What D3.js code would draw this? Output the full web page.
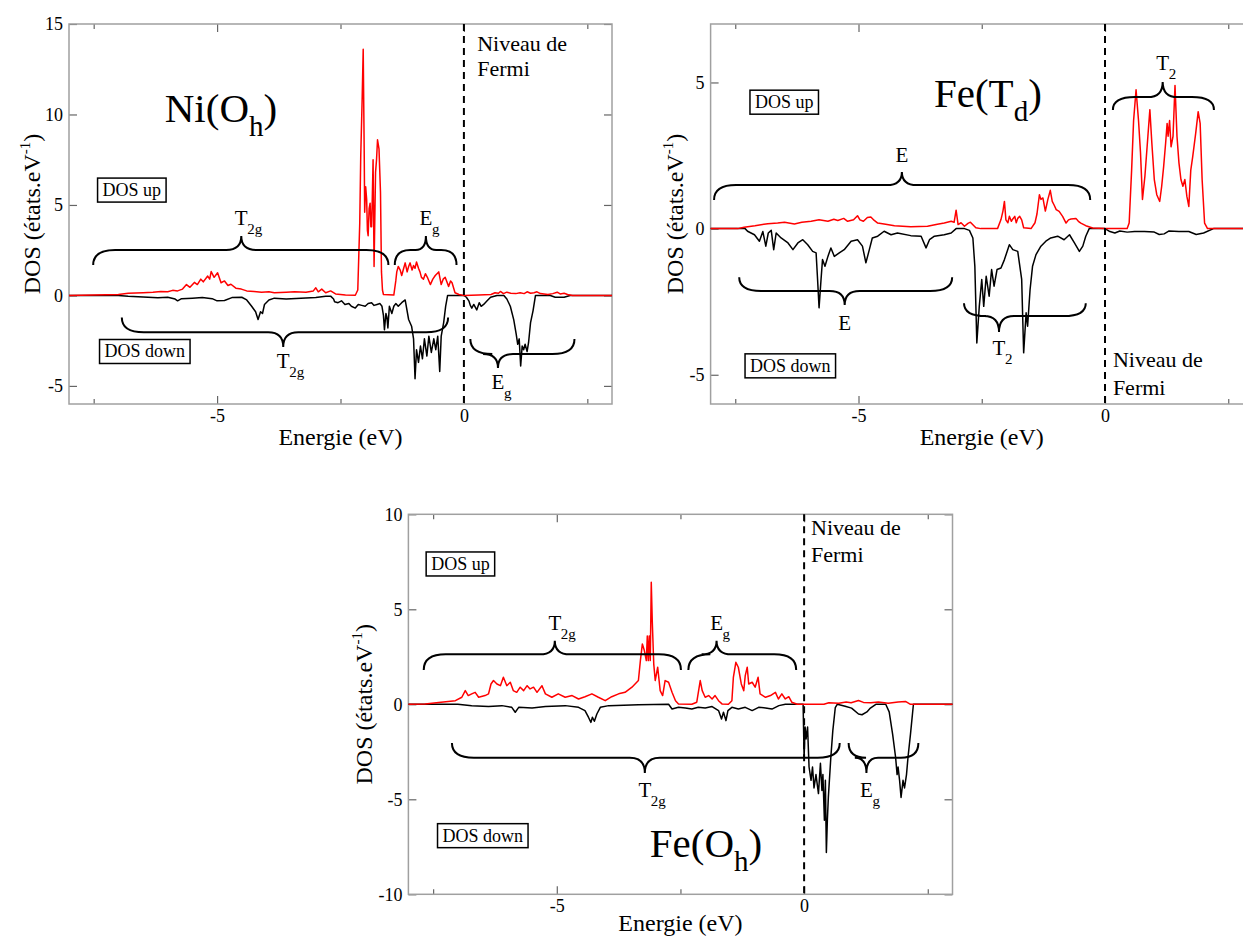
<!DOCTYPE html>
<html><head><meta charset="utf-8">
<script src="https://cdn.jsdelivr.net/npm/d3@7"></script>
<style>
body{margin:0;background:#fff}
svg{display:block}
svg text{font-family:"Liberation Serif","Tinos","DejaVu Serif","Noto Serif",serif !important;fill:#000}
</style>
</head><body>
<svg id="c" width="1243" height="938"></svg>
<script>
// ---------- DATA ----------
const xMajorTicks = [-5, 0];
const xMinorTicks = [-7.5, -2.5, 2.5];
const niYTicks = [-5, 0, 5, 10, 15];
const tdYTicks = [-5, 0, 5];
const ohYTicks = [-10, -5, 0, 5, 10];

// Ni(Oh) DOS up (red) [energy eV, DOS]
const niUp = [[-8,0],[-7.5,0.02],[-7,0.05],[-6.8,0.12],[-6.5,0.15],[-6.3,0.18],[-6.14,0.22],[-6.0,0.2],[-5.9,0.28],[-5.8,0.25],[-5.7,0.35],[-5.62,0.6],[-5.55,0.45],[-5.46,0.72],[-5.4,0.6],[-5.33,0.9],[-5.28,0.75],[-5.19,1.07],[-5.15,0.9],[-5.12,1.32],[-5.06,1.0],[-4.99,1.25],[-4.92,0.7],[-4.85,0.8],[-4.78,0.55],[-4.72,0.62],[-4.62,0.4],[-4.51,0.35],[-4.4,0.25],[-4.25,0.22],[-4.1,0.18],[-3.95,0.2],[-3.84,0.15],[-3.6,0.18],[-3.43,0.2],[-3.2,0.18],[-3.05,0.25],[-3.0,0.42],[-2.95,0.2],[-2.88,0.35],[-2.8,0.15],[-2.7,0.25],[-2.6,0.08],[-2.4,0.02],[-2.2,0.01],[-2.15,0.3],[-2.11,4.0],[-2.09,7.7],[-2.06,11.0],[-2.04,13.6],[-2.02,8.0],[-2.01,4.6],[-1.99,6.0],[-1.97,5.3],[-1.955,3.6],[-1.94,3.3],[-1.92,4.8],[-1.9,5.1],[-1.885,3.8],[-1.87,3.8],[-1.855,5.5],[-1.84,7.5],[-1.82,1.6],[-1.79,6.8],[-1.77,7.5],[-1.75,8.6],[-1.72,8.1],[-1.69,5.7],[-1.67,1.3],[-1.65,0.3],[-1.63,0.05],[-1.42,0.02],[-1.38,0.8],[-1.36,1.3],[-1.33,1.6],[-1.29,1.4],[-1.26,1.1],[-1.22,1.5],[-1.19,1.8],[-1.15,1.3],[-1.12,1.6],[-1.09,1.8],[-1.05,1.4],[-1.02,1.65],[-0.99,1.5],[-0.96,1.85],[-0.92,1.5],[-0.89,1.3],[-0.86,1.0],[-0.82,0.9],[-0.78,1.2],[-0.74,1.0],[-0.68,0.6],[-0.63,0.9],[-0.58,1.1],[-0.51,1.3],[-0.46,0.6],[-0.42,0.9],[-0.38,1.0],[-0.31,0.5],[-0.27,0.8],[-0.24,0.7],[-0.18,0.15],[-0.1,0.05],[0,0],[0.3,0.02],[0.55,0.05],[0.63,0.15],[0.7,0.12],[0.74,0.22],[0.8,0.1],[0.87,0.18],[0.95,0.12],[1.05,0.1],[1.14,0.15],[1.22,0.1],[1.28,0.2],[1.35,0.12],[1.42,0.15],[1.48,0.2],[1.55,0.1],[1.7,0.05],[1.8,0.1],[1.89,0.18],[1.95,0.08],[2.03,0.12],[2.1,0.05],[2.2,0],[3,0]];
// Ni(Oh) DOS down (black)
const niDown = [[-8,0],[-7.0,0],[-6.8,-0.04],[-6.5,-0.08],[-6.2,-0.13],[-6.0,-0.1],[-5.85,-0.2],[-5.8,-0.3],[-5.72,-0.18],[-5.5,-0.15],[-5.3,-0.12],[-5.1,-0.18],[-5.0,-0.3],[-4.85,-0.28],[-4.7,-0.12],[-4.5,-0.1],[-4.4,-0.25],[-4.3,-0.6],[-4.22,-0.9],[-4.17,-1.33],[-4.12,-0.9],[-4.08,-1.0],[-4.04,-0.5],[-3.95,-0.25],[-3.84,-0.15],[-3.6,-0.2],[-3.3,-0.15],[-3.0,-0.12],[-2.8,-0.05],[-2.7,-0.04],[-2.64,-0.2],[-2.62,-0.35],[-2.55,-0.4],[-2.48,-0.3],[-2.41,-0.5],[-2.33,-0.45],[-2.28,-0.6],[-2.2,-0.7],[-2.14,-0.5],[-2.07,-0.55],[-2.0,-0.6],[-1.94,-0.45],[-1.87,-0.4],[-1.82,-0.55],[-1.76,-0.5],[-1.7,-0.45],[-1.66,-0.6],[-1.63,-1.1],[-1.61,-1.9],[-1.58,-1.0],[-1.56,-1.2],[-1.54,-1.8],[-1.51,-0.6],[-1.46,-1.0],[-1.42,-0.6],[-1.38,-0.45],[-1.33,-0.6],[-1.26,-0.4],[-1.19,-0.25],[-1.12,-1.33],[-1.06,-1.7],[-1.02,-2.4],[-0.99,-4.6],[-0.96,-3.0],[-0.92,-3.7],[-0.88,-2.8],[-0.84,-3.5],[-0.8,-2.4],[-0.75,-3.35],[-0.71,-2.25],[-0.66,-3.15],[-0.61,-2.4],[-0.57,-3.0],[-0.53,-2.25],[-0.49,-4.2],[-0.46,-2.25],[-0.41,-1.5],[-0.37,-0.6],[-0.33,0],[0.0,0],[0.05,-0.1],[0.1,-0.3],[0.13,-0.55],[0.16,-0.7],[0.2,-0.5],[0.26,-0.8],[0.31,-0.4],[0.35,-0.6],[0.4,-0.5],[0.47,-0.3],[0.54,-0.1],[0.67,0],[0.81,0],[0.87,-0.2],[0.94,-0.6],[1.01,-1.35],[1.06,-2.15],[1.09,-2.7],[1.12,-2.4],[1.15,-3.9],[1.18,-2.8],[1.21,-3.0],[1.24,-2.7],[1.28,-3.1],[1.31,-2.6],[1.35,-1.5],[1.4,-0.85],[1.45,0],[1.75,0],[1.85,-0.1],[2.03,-0.1],[2.15,0],[3,0]];

// Fe(Td) DOS up (red)
const tdUp = [[-8,0],[-7.45,0],[-7.32,0.05],[-7.1,0.1],[-6.84,0.17],[-6.64,0.19],[-6.5,0.22],[-6.3,0.16],[-6.15,0.22],[-5.96,0.25],[-5.8,0.3],[-5.62,0.25],[-5.5,0.32],[-5.42,0.28],[-5.3,0.35],[-5.22,0.25],[-5.1,0.3],[-5.02,0.44],[-4.97,0.3],[-4.9,0.25],[-4.82,0.38],[-4.75,0.4],[-4.68,0.28],[-4.61,0.19],[-4.45,0.15],[-4.27,0.1],[-3.94,0.06],[-3.6,0.08],[-3.4,0.15],[-3.26,0.19],[-3.12,0.25],[-3.06,0.22],[-3.02,0.63],[-2.98,0.14],[-2.92,0.2],[-2.85,0.08],[-2.78,0.18],[-2.73,0.22],[-2.62,0.03],[-2.52,0],[-2.18,0],[-2.11,0.31],[-2.07,0.6],[-2.04,0.93],[-2.01,0.3],[-1.97,0.2],[-1.94,0.42],[-1.9,0.25],[-1.87,0.33],[-1.83,0.42],[-1.8,0.2],[-1.77,0.35],[-1.73,0.42],[-1.69,0.3],[-1.65,0.03],[-1.5,0],[-1.42,0.2],[-1.38,0.5],[-1.33,1.16],[-1.3,1.0],[-1.26,1.05],[-1.21,0.6],[-1.16,0.99],[-1.11,1.31],[-1.07,0.93],[-1.03,0.8],[-0.99,0.65],[-0.93,0.59],[-0.86,0.42],[-0.79,0.19],[-0.74,0.3],[-0.69,0.33],[-0.59,0.35],[-0.54,0.25],[-0.49,0.19],[-0.39,0.1],[-0.25,0.02],[0,0],[0.45,0],[0.49,0.19],[0.54,2.0],[0.58,3.7],[0.63,4.75],[0.68,3.7],[0.72,2.6],[0.76,1.0],[0.81,1.8],[0.87,3.16],[0.91,4.07],[0.95,2.93],[1.0,1.68],[1.05,1.16],[1.11,0.93],[1.15,1.45],[1.19,2.13],[1.23,2.93],[1.26,3.6],[1.28,3.16],[1.31,3.7],[1.34,2.8],[1.38,3.16],[1.42,4.9],[1.46,3.16],[1.5,2.25],[1.54,1.68],[1.58,1.45],[1.62,1.68],[1.66,1.11],[1.7,0.76],[1.74,2.0],[1.78,2.47],[1.84,3.27],[1.89,4.0],[1.93,3.6],[1.97,1.68],[2.02,0.19],[2.08,0],[3,0]];
// Fe(Td) DOS down (black)
const tdDown = [[-8,0],[-7.3,0],[-7.25,-0.09],[-7.11,-0.21],[-7.01,-0.43],[-6.94,-0.1],[-6.88,-0.6],[-6.83,-0.15],[-6.77,-0.06],[-6.72,-0.72],[-6.67,-0.15],[-6.57,-0.32],[-6.43,-0.49],[-6.33,-0.72],[-6.23,-0.49],[-6.13,-0.38],[-6.03,-0.55],[-5.93,-0.78],[-5.86,-0.83],[-5.83,-1.74],[-5.8,-2.71],[-5.76,-1.74],[-5.73,-1.06],[-5.68,-1.29],[-5.62,-0.95],[-5.56,-0.66],[-5.49,-0.95],[-5.39,-0.83],[-5.29,-0.72],[-5.15,-0.43],[-5.02,-0.38],[-4.92,-0.6],[-4.85,-1.17],[-4.78,-0.72],[-4.72,-0.32],[-4.61,-0.26],[-4.48,-0.09],[-4.34,-0.21],[-4.21,-0.15],[-3.94,-0.24],[-3.73,-0.26],[-3.63,-0.66],[-3.56,-0.38],[-3.46,-0.26],[-3.26,-0.21],[-3.12,-0.15],[-3.02,0],[-2.85,0],[-2.75,-0.06],[-2.68,-0.32],[-2.64,-1.29],[-2.6,-3.91],[-2.55,-2.66],[-2.5,-1.74],[-2.46,-2.66],[-2.41,-1.63],[-2.35,-2.31],[-2.3,-1.4],[-2.25,-1.97],[-2.19,-1.4],[-2.11,-1.35],[-2.04,-1.06],[-1.94,-0.55],[-1.87,-0.72],[-1.77,-0.78],[-1.69,-1.74],[-1.65,-4.25],[-1.6,-2.88],[-1.57,-3.34],[-1.52,-2.09],[-1.47,-1.29],[-1.4,-0.89],[-1.3,-0.6],[-1.2,-0.43],[-1.1,-0.32],[-0.96,-0.26],[-0.83,-0.38],[-0.72,-0.21],[-0.62,-0.49],[-0.52,-0.78],[-0.45,-0.6],[-0.39,-0.26],[-0.32,0],[0,0],[0.1,-0.1],[0.2,-0.15],[0.3,-0.08],[0.45,-0.12],[0.6,-0.1],[0.8,-0.1],[1.0,-0.12],[1.1,-0.2],[1.2,-0.18],[1.3,-0.08],[1.5,-0.1],[1.7,-0.1],[1.85,-0.2],[2.0,-0.15],[2.2,0],[3,0]];

// Fe(Oh) DOS up (red)
const ohUp = [[-8,0],[-7.66,0.02],[-7.39,0.1],[-7.05,0.19],[-6.92,0.37],[-6.85,0.72],[-6.79,0.46],[-6.72,0.55],[-6.65,0.63],[-6.58,0.37],[-6.45,0.46],[-6.38,0.55],[-6.33,1.07],[-6.28,1.25],[-6.21,1.07],[-6.14,0.98],[-6.08,1.42],[-6.01,0.98],[-5.94,1.16],[-5.88,0.72],[-5.81,0.63],[-5.74,0.9],[-5.67,0.72],[-5.6,0.98],[-5.54,0.81],[-5.47,0.9],[-5.4,0.63],[-5.3,0.98],[-5.23,0.55],[-5.1,0.37],[-4.97,0.55],[-4.83,0.37],[-4.69,0.46],[-4.56,0.28],[-4.43,0.4],[-4.29,0.55],[-4.16,0.37],[-4.02,0.19],[-3.89,0.4],[-3.75,0.55],[-3.62,0.63],[-3.48,0.9],[-3.35,1.25],[-3.31,2.3],[-3.27,3.18],[-3.23,2.83],[-3.19,2.3],[-3.17,3.6],[-3.15,2.3],[-3.13,3.6],[-3.11,2.3],[-3.09,6.42],[-3.07,4.4],[-3.04,2.13],[-3.01,1.25],[-2.96,1.95],[-2.91,0.72],[-2.86,0.46],[-2.81,1.25],[-2.74,1.16],[-2.67,0.63],[-2.6,0.19],[-2.54,0.02],[-2.27,0],[-2.17,0.11],[-2.1,1.25],[-2.06,0.72],[-2.0,0.37],[-1.93,0.46],[-1.86,0.28],[-1.8,0.46],[-1.73,0.19],[-1.66,0.02],[-1.53,0],[-1.46,0.19],[-1.43,1.42],[-1.38,2.21],[-1.33,1.95],[-1.27,1.07],[-1.22,0.72],[-1.19,1.51],[-1.15,1.95],[-1.12,1.07],[-1.05,1.16],[-0.99,0.9],[-0.93,1.42],[-0.89,0.55],[-0.78,0.37],[-0.68,0.46],[-0.58,0.63],[-0.52,0.28],[-0.45,0.55],[-0.38,0.28],[-0.31,0.4],[-0.25,0.11],[-0.14,0],[0.4,0],[0.5,0.08],[0.7,0.05],[0.85,0.12],[0.95,0.08],[1.1,0.2],[1.2,0.1],[1.35,0.08],[1.5,0.12],[1.7,0.05],[1.9,0.12],[2.05,0.15],[2.15,0],[3,0]];
// Fe(Oh) DOS down (black)
const ohDown = [[-8,0],[-7.0,0],[-6.72,-0.07],[-6.38,-0.12],[-6.11,-0.07],[-5.91,-0.16],[-5.84,-0.42],[-5.77,-0.16],[-5.5,-0.19],[-5.23,-0.12],[-4.83,-0.07],[-4.56,-0.16],[-4.43,-0.33],[-4.36,-0.68],[-4.31,-0.95],[-4.28,-0.68],[-4.24,-0.89],[-4.19,-0.51],[-4.12,-0.16],[-3.95,-0.07],[-3.35,-0.02],[-2.74,0],[-2.67,-0.25],[-2.54,-0.16],[-2.4,-0.19],[-2.27,-0.25],[-2.14,-0.16],[-2.0,-0.19],[-1.86,-0.12],[-1.73,-0.33],[-1.67,-0.77],[-1.63,-0.42],[-1.58,-0.86],[-1.54,-0.33],[-1.46,-0.16],[-1.33,-0.25],[-1.19,-0.16],[-1.05,-0.33],[-0.92,-0.16],[-0.78,-0.19],[-0.65,-0.25],[-0.51,-0.07],[-0.38,0],[-0.02,0],[0.0,-2.8],[0.02,-1.2],[0.04,-1.82],[0.07,-1.2],[0.1,-3.3],[0.14,-4.0],[0.17,-3.3],[0.2,-4.4],[0.24,-3.7],[0.29,-4.7],[0.33,-3.1],[0.36,-4.54],[0.38,-3.7],[0.41,-6.1],[0.43,-4.0],[0.45,-7.8],[0.47,-6.1],[0.49,-4.9],[0.54,-2.8],[0.58,-1.4],[0.63,-0.18],[0.67,0],[0.83,-0.1],[0.96,-0.2],[1.1,-0.51],[1.17,-0.55],[1.27,-0.4],[1.34,-0.2],[1.45,0],[1.65,0],[1.72,-0.4],[1.79,-1.58],[1.85,-2.8],[1.88,-3.7],[1.9,-3.3],[1.93,-4.0],[1.96,-4.9],[2.0,-4.0],[2.03,-4.4],[2.07,-3.7],[2.1,-2.8],[2.15,-1.58],[2.21,0],[3,0]];

// ---------- LAYOUT / ANNOTATIONS ----------
const FONT = '"Liberation Serif","Tinos","DejaVu Serif","Noto Serif",serif';
const panels = [
  { left:69, right:612, top:24, bottom:404, xDom:[-8,3], yDom:[-6,15], yTicks:niYTicks,
    up:niUp, down:niDown, yTitleX:40, xTitleY:445,
    title:{main:"Ni(O", sub:"h", x:-6.06, y:9.58},
    fermi:{x:0.27, y1:13.52, y2:12.1},
    boxes:[{t:"DOS up", x:-7.32, y:5.49},{t:"DOS down", x:-7.28, y:-3.43}],
    braces:[
      {x1:-7.51,x2:-1.53,yL:2.51,yE:1.68,xc:-4.51,yT:3.28,lab:"T",sub:"2g",ly:3.89},
      {x1:-1.40,x2:-0.15,yL:2.51,yE:1.68,xc:-0.77,yT:3.28,lab:"E",sub:"g",ly:3.89},
      {x1:-6.93,x2:-0.32,yL:-2.04,yE:-1.22,xc:-3.66,yT:-2.85,lab:"T",sub:"2g",ly:-4.0},
      {x1:0.13,x2:2.24,yL:-3.24,yE:-2.41,xc:0.69,yT:-4.01,lab:"E",sub:"g",ly:-5.19}
    ]},
  { left:710.6, right:1252.9, top:24, bottom:404, xDom:[-8,3], yDom:[-6,7], yTicks:tdYTicks,
    up:tdUp, down:tdDown, yTitleX:683, xTitleY:445,
    title:{main:"Fe(T", sub:"d", x:-3.47, y:4.16},
    fermi:{x:0.16, y1:-4.73, y2:-5.69},
    boxes:[{t:"DOS up", x:-7.1, y:4.12},{t:"DOS down", x:-7.2, y:-4.9}],
    braces:[
      {x1:-7.93,x2:-0.30,yL:1.49,yE:0.98,xc:-4.12,yT:1.94,lab:"E",sub:"",ly:2.28},
      {x1:0.16,x2:2.21,yL:4.50,yE:4.06,xc:1.17,yT:5.02,lab:"T",sub:"2",ly:5.43},
      {x1:-7.42,x2:-3.10,yL:-2.13,yE:-1.66,xc:-5.28,yT:-2.61,lab:"E",sub:"",ly:-3.47},
      {x1:-2.86,x2:-0.39,yL:-2.99,yE:-2.55,xc:-2.15,yT:-3.54,lab:"T",sub:"2",ly:-4.32}
    ]},
  { left:408.4, right:952.5, top:514.3, bottom:894.3, xDom:[-8,3], yDom:[-10,10], yTicks:ohYTicks,
    up:ohUp, down:ohDown, yTitleX:372, xTitleY:931,
    title:{main:"Fe(O", sub:"h", x:-3.12, y:-8.02},
    fermi:{x:0.14, y1:8.91, y2:7.5},
    boxes:[{t:"DOS up", x:-7.54, y:7.07},{t:"DOS down", x:-7.31, y:-7.23}],
    braces:[
      {x1:-7.69,x2:-2.49,yL:2.63,yE:1.81,xc:-5.04,yT:3.35,lab:"T",sub:"2g",ly:3.91},
      {x1:-2.34,x2:-0.16,yL:2.63,yE:1.81,xc:-1.77,yT:3.35,lab:"E",sub:"g",ly:3.91},
      {x1:-7.12,x2:0.72,yL:-2.81,yE:-2.04,xc:-3.22,yT:-3.62,lab:"T",sub:"2g",ly:-4.86},
      {x1:0.90,x2:2.31,yL:-2.81,yE:-2.04,xc:1.26,yT:-3.62,lab:"E",sub:"g",ly:-4.86}
    ]}
];

const svg = d3.select('#c');

function bracePath(x1,x2,yL,yE,xc,yT){
  const w = x2 - x1;
  const re = Math.min(22, w/4), rc = Math.min(15, w/6);
  return `M${x1},${yE} Q${x1},${yL} ${x1+re},${yL} L${xc-rc},${yL} Q${xc},${yL} ${xc},${yT} `+
         `Q${xc},${yL} ${xc+rc},${yL} L${x2-re},${yL} Q${x2},${yL} ${x2},${yE}`;
}
const txt = (sel) => sel.append('text').attr('font-family',FONT).attr('fill','#000');

panels.forEach(p => {
  const x = d3.scaleLinear().domain(p.xDom).range([p.left, p.right]);
  const y = d3.scaleLinear().domain(p.yDom).range([p.bottom, p.top]);
  const g = svg.append('g');
  const W = p.right - p.left, H = p.bottom - p.top;

  const fmt = d => String(d);
  const styleAxis = (sel, labels) => {
    sel.attr('font-family',FONT);
    sel.select('.domain').remove();
    sel.selectAll('.tick line').attr('stroke','#666').attr('stroke-width',1.2);
    sel.selectAll('.tick text').attr('font-family',FONT).attr('font-size',18).attr('fill','#000');
    if(!labels) sel.selectAll('.tick text').remove();
  };
  // inward ticks on all four sides
  g.append('g').attr('transform',`translate(0,${p.bottom})`)
    .call(d3.axisBottom(x).tickValues(xMajorTicks).tickSize(-8).tickPadding(5).tickFormat(fmt))
    .call(s=>styleAxis(s,true));
  g.append('g').attr('transform',`translate(0,${p.bottom})`)
    .call(d3.axisBottom(x).tickValues(xMinorTicks).tickSize(-5).tickFormat(''))
    .call(s=>styleAxis(s,false));
  g.append('g').attr('transform',`translate(0,${p.top})`)
    .call(d3.axisTop(x).tickValues(xMajorTicks).tickSize(-8).tickFormat(''))
    .call(s=>styleAxis(s,false));
  g.append('g').attr('transform',`translate(0,${p.top})`)
    .call(d3.axisTop(x).tickValues(xMinorTicks).tickSize(-5).tickFormat(''))
    .call(s=>styleAxis(s,false));
  g.append('g').attr('transform',`translate(${p.left},0)`)
    .call(d3.axisLeft(y).tickValues(p.yTicks).tickSize(-8).tickPadding(6).tickFormat(fmt))
    .call(s=>styleAxis(s,true));
  g.append('g').attr('transform',`translate(${p.right},0)`)
    .call(d3.axisRight(y).tickValues(p.yTicks).tickSize(-8).tickFormat(''))
    .call(s=>styleAxis(s,false));

  // frame
  g.append('rect').attr('x',p.left).attr('y',p.top).attr('width',W).attr('height',H)
    .attr('fill','none').attr('stroke','#a0a0a0').attr('stroke-width',1.5);

  // curves
  const line = d3.line().x(d=>x(d[0])).y(d=>y(d[1]));
  g.append('path').datum(p.down).attr('d',line).attr('fill','none').attr('stroke','#000').attr('stroke-width',1.5).attr('stroke-linejoin','round');
  g.append('path').datum(p.up).attr('d',line).attr('fill','none').attr('stroke','#ff0000').attr('stroke-width',1.5).attr('stroke-linejoin','round');

  // Fermi level
  g.append('line').attr('x1',x(0)).attr('x2',x(0)).attr('y1',p.top).attr('y2',p.bottom)
    .attr('stroke','#000').attr('stroke-width',2).attr('stroke-dasharray','7,5');
  txt(g).attr('x',x(p.fermi.x)).attr('y',y(p.fermi.y1)).attr('font-size',22).text('Niveau de');
  txt(g).attr('x',x(p.fermi.x)).attr('y',y(p.fermi.y2)).attr('font-size',22).text('Fermi');

  // braces
  p.braces.forEach(b => {
    g.append('path').attr('d',bracePath(x(b.x1),x(b.x2),y(b.yL),y(b.yE),x(b.xc),y(b.yT)))
      .attr('fill','none').attr('stroke','#000').attr('stroke-width',2);
    txt(g).attr('x',x(b.xc)).attr('y',y(b.ly)).attr('font-size',21)
      .attr('text-anchor','middle').text(b.lab);
    if(b.sub) txt(g).attr('x',x(b.xc)+6).attr('y',y(b.ly)+9).attr('font-size',15).text(b.sub);
  });

  // boxes
  p.boxes.forEach(bx => {
    const t = txt(g).attr('x',x(bx.x)).attr('y',y(bx.y)).attr('font-size',18).text(bx.t);
    const bb = t.node().getBBox();
    g.insert('rect', () => t.node()).attr('x',bb.x-5).attr('y',bb.y-2).attr('width',bb.width+10).attr('height',bb.height+4)
      .attr('fill','#fff').attr('stroke','#000').attr('stroke-width',1.5);
  });

  // title
  const tt = txt(g).attr('x',x(p.title.x)).attr('y',y(p.title.y)).attr('font-size',41);
  tt.append('tspan').text(p.title.main);
  tt.append('tspan').attr('font-size',29).attr('dy',14).text(p.title.sub);
  tt.append('tspan').attr('dy',-14).text(')');

  // axis titles
  txt(g).attr('x',(p.left+p.right)/2).attr('y',p.xTitleY).attr('text-anchor','middle')
    .attr('font-size',24).text('Energie (eV)');
  const yt = txt(g).attr('transform',`translate(${p.yTitleX},${(p.top+p.bottom)/2}) rotate(-90)`)
    .attr('text-anchor','middle').attr('font-size',24);
  yt.append('tspan').text('DOS (états.eV');
  yt.append('tspan').attr('font-size',15).attr('dy',-10).text('-1');
  yt.append('tspan').attr('dy',10).text(')');
});
</script>
</body></html>
